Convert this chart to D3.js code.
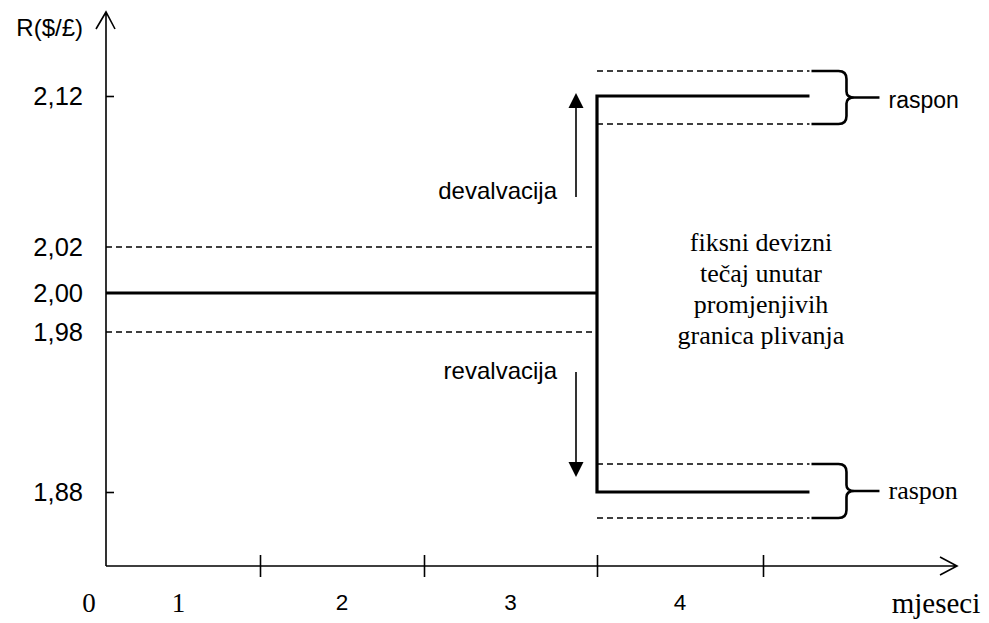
<!DOCTYPE html>
<html>
<head>
<meta charset="utf-8">
<script src="https://cdn.jsdelivr.net/npm/d3@7"></script>
<style>
  body { margin: 0; background: #fff; }
  svg { display: block; }
  .sans { font-family: "Liberation Sans", Arial, sans-serif; }
  .serif { font-family: "Liberation Serif", "Times New Roman", serif; }
</style>
</head>
<body>
<div id="chart"></div>
<script>
// podaci
var months = [1, 2, 3, 4];                              // granice mjeseci na osi x
var monthLabels = ["0", "1", "2", "3", "4"];
var monthLabelAt = [-0.11, 0.47, 1.5, 2.5, 3.5];
var rateTicks = [2.12, 2.02, 2.00, 1.98, 1.88];
var oldRate = 2.00, oldBand = [2.02, 1.98];
var newRates = [2.12, 1.88];
var newBands = [[2.14, 2.10], [1.90, 1.86]];
var changeMonth = 3, endMonth = 4.28;
var boxText = ["fiksni devizni", "tečaj unutar", "promjenjivih", "granica plivanja"];

var width = 989, height = 623;
var x0 = 106, yAxis = 566;

var svg = d3.select("#chart").append("svg")
    .attr("width", width)
    .attr("height", height);

var x = d3.scaleLinear()
    .domain([0, 1, 2, 3, 4])
    .range([x0, 260, 424, 597, 763]);

// shematska os: razmaci nisu proporcionalni
var y = d3.scaleLinear()
    .domain([1.86, 1.88, 1.90, 1.98, 2.00, 2.02, 2.10, 2.12, 2.14])
    .range([518, 492, 464, 332, 293, 247, 124, 96, 71]);

var fmt = d3.formatLocale({decimal: ",", thousands: ".", grouping: [3], currency: ["", ""]}).format(".2f");

// osi
svg.append("path")
    .attr("d", "M" + x0 + "," + yAxis + "V12M96,29L" + x0 + ",12L115,29")
    .attr("fill", "none").attr("stroke", "#000").attr("stroke-width", 1.6);
svg.append("path")
    .attr("d", "M" + x0 + "," + yAxis + "H957M940,557L957," + yAxis + "L940,575")
    .attr("fill", "none").attr("stroke", "#000").attr("stroke-width", 1.6);

var xTicks = svg.append("g")
    .attr("transform", "translate(0," + (yAxis - 11) + ")")
    .call(d3.axisBottom(x).tickValues(months).tickSize(22).tickFormat(""));
xTicks.select(".domain").remove();
xTicks.selectAll("line").attr("stroke-width", 1.6);

var yTicks = svg.append("g")
    .attr("transform", "translate(" + x0 + ",0)")
    .call(d3.axisRight(y).tickValues(newRates).tickSize(8).tickFormat(""));
yTicks.select(".domain").remove();
yTicks.selectAll("line").attr("stroke-width", 1.6);

// oznake
svg.append("text").attr("class", "sans")
    .attr("x", 83).attr("y", 36).attr("text-anchor", "end")
    .attr("font-size", 24)
    .text("R($/£)");

svg.selectAll(".ylab").data(rateTicks).enter().append("text")
    .attr("class", "sans ylab")
    .attr("x", 83).attr("y", function(d) { return y(d) + 9; })
    .attr("text-anchor", "end").attr("font-size", 25.5)
    .text(function(d) { return fmt(d); });

svg.selectAll(".xlab").data(monthLabels).enter().append("text")
    .attr("class", function(d, i) { return i < 2 ? "serif xlab" : "sans xlab"; })
    .attr("x", function(d, i) { return x(monthLabelAt[i]); })
    .attr("y", function(d, i) { return i < 2 ? 612 : 610; })
    .attr("text-anchor", "middle")
    .attr("font-size", function(d, i) { return i < 2 ? 27 : 22.5; })
    .text(function(d) { return d; });

svg.append("text").attr("class", "serif")
    .attr("x", 936).attr("y", 613).attr("text-anchor", "middle")
    .attr("font-size", 29)
    .text("mjeseci");

// isprekidane granice
var dashes = [];
oldBand.forEach(function(r) { dashes.push({a: 0, b: changeMonth, r: r}); });
newBands.forEach(function(p) { p.forEach(function(r) { dashes.push({a: changeMonth, b: endMonth, r: r}); }); });

svg.selectAll(".band").data(dashes).enter().append("line")
    .attr("class", "band")
    .attr("x1", function(d) { return x(d.a); })
    .attr("x2", function(d) { return x(d.b); })
    .attr("y1", function(d) { return y(d.r); })
    .attr("y2", function(d) { return y(d.r); })
    .attr("stroke", "#000").attr("stroke-width", 1.5)
    .attr("stroke-dasharray", "6,4");

// tečaj
var line = d3.line().x(function(d) { return x(d[0]); }).y(function(d) { return y(d[1]); });
var paths = [
    [[0, oldRate], [changeMonth, oldRate]],
    [[endMonth, newRates[0]], [changeMonth, newRates[0]], [changeMonth, newRates[1]], [endMonth, newRates[1]]]
];
svg.selectAll(".rate").data(paths).enter().append("path")
    .attr("class", "rate")
    .attr("d", line)
    .attr("fill", "none").attr("stroke", "#000").attr("stroke-width", 3.2)
    .attr("stroke-linejoin", "miter");

// strelice
var ax = x(changeMonth) - 21;
function arrow(yFrom, yTip) {
    var dir = yTip < yFrom ? 1 : -1;
    svg.append("line")
        .attr("x1", ax).attr("x2", ax)
        .attr("y1", yFrom).attr("y2", yTip + dir * 14)
        .attr("stroke", "#000").attr("stroke-width", 1.6);
    svg.append("path")
        .attr("d", "M" + ax + "," + yTip + "L" + (ax - 7.5) + "," + (yTip + dir * 15) + "L" + (ax + 7.5) + "," + (yTip + dir * 15) + "Z")
        .attr("fill", "#000");
}
arrow(y(oldBand[0]) - 50, y(newRates[0]) - 3);
arrow(y(oldBand[1]) + 40, y(newRates[1]) - 15);

svg.append("text").attr("class", "sans")
    .attr("x", 557).attr("y", y(oldBand[0]) - 48).attr("text-anchor", "end")
    .attr("font-size", 24).text("devalvacija");
svg.append("text").attr("class", "sans")
    .attr("x", 557).attr("y", y(oldBand[1]) + 47).attr("text-anchor", "end")
    .attr("font-size", 24).text("revalvacija");

svg.append("text").attr("class", "serif")
    .attr("text-anchor", "middle").attr("font-size", 26)
    .selectAll("tspan").data(boxText).enter().append("tspan")
    .attr("x", 761)
    .attr("y", function(d, i) { return 251 + i * 31; })
    .text(function(d) { return d; });

// vitičaste zagrade
function brace(p, sans) {
    var bx = x(endMonth) + 2, t = y(p[0]), b = y(p[1]), m = (t + b) / 2, c = bx + 35;
    var d = "M" + bx + "," + t + "H" + (c - 8) + "Q" + c + "," + t + " " + c + "," + (t + 8) +
        "V" + (m - 6) + "Q" + c + "," + m + " " + (c + 8) + "," + m +
        "Q" + c + "," + m + " " + c + "," + (m + 6) +
        "V" + (b - 8) + "Q" + c + "," + b + " " + (c - 8) + "," + b + "H" + bx +
        "M" + (c + 6) + "," + m + "H" + (bx + 68);
    svg.append("path").attr("d", d)
        .attr("fill", "none").attr("stroke", "#000").attr("stroke-width", 2.6);
    svg.append("text").attr("class", sans ? "sans" : "serif")
        .attr("x", bx + 77).attr("y", m + (sans ? 10 : 8))
        .attr("font-size", sans ? 23 : 26)
        .text("raspon");
}
brace(newBands[0], true);
brace(newBands[1], false);
</script>
</body>
</html>
